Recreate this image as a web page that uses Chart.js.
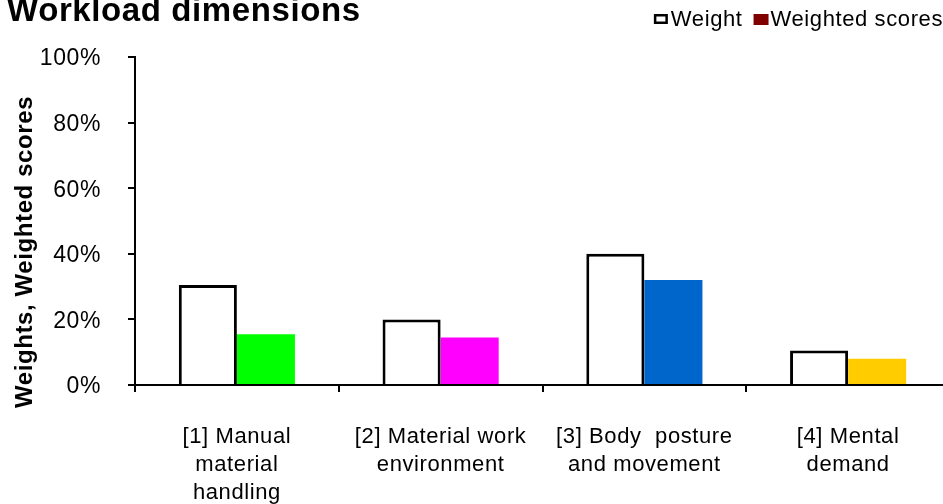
<!DOCTYPE html>
<html>
<head>
<meta charset="utf-8">
<script src="https://cdn.jsdelivr.net/npm/chart.js@4/dist/chart.umd.min.js"></script>
<style>
  html, body { margin: 0; padding: 0; background: #ffffff; overflow: hidden; }
  #wrap { width: 943px; height: 504px; overflow: hidden; position: relative; }
  canvas { display: block; }
</style>
</head>
<body>
<div id="wrap"><canvas id="chart" width="950" height="504"></canvas></div>
<script>
// Workload dimensions: weight of each dimension and its weighted score (%)
const categories = [
  ['[1] Manual', 'material', 'handling'],
  ['[2] Material work', 'environment'],
  ['[3] Body  posture', 'and movement'],
  ['[4] Mental', 'demand']
];
const weights = [30.5, 20, 40, 10.5];
const weightedScores = [15.5, 14.5, 32, 8];
const scoreColors = ['#00ff00', '#ff00ff', '#0066cc', '#ffcc00'];
const seriesNames = ['Weight', 'Weighted scores'];
const legendSwatches = ['#ffffff', '#800000'];
const yTicks = [0, 20, 40, 60, 80, 100];
const chartTitle = 'Workload dimensions';
const yAxisTitle = 'Weights, Weighted scores';

const FONT = '"Liberation Sans", Arial, sans-serif';
const SPACING = '0.6px';

// Slightly tracked-out text everywhere on the canvas
const tracking = {
  id: 'tracking',
  beforeUpdate(chart) { chart.ctx.letterSpacing = SPACING; },
  beforeDraw(chart) { chart.ctx.letterSpacing = SPACING; }
};

// Rotated y-axis caption and the compact legend in the top-right corner
const captions = {
  id: 'captions',
  afterDraw(chart) {
    const ctx = chart.ctx;

    ctx.save();
    ctx.letterSpacing = SPACING;
    ctx.fillStyle = '#000000';
    ctx.font = 'bold 24px ' + FONT;
    ctx.translate(25, 252);
    ctx.rotate(-Math.PI / 2);
    ctx.textAlign = 'center';
    ctx.textBaseline = 'middle';
    ctx.fillText(yAxisTitle, 0, 0);
    ctx.restore();

    ctx.save();
    ctx.letterSpacing = SPACING;
    ctx.font = '22px ' + FONT;
    ctx.textAlign = 'left';
    ctx.textBaseline = 'middle';
    const y = 20;
    let x = 943;
    for (let i = seriesNames.length - 1; i >= 0; i--) {
      const w = ctx.measureText(seriesNames[i]).width;
      x -= w;
      ctx.fillStyle = '#000000';
      ctx.fillText(seriesNames[i], x, y);
      x -= 3;
      const bw = 14, bh = 10;
      x -= bw;
      if (i === 0) {
        ctx.fillStyle = legendSwatches[i];
        ctx.fillRect(x, y - bh / 2 - 1, bw, bh);
        ctx.strokeStyle = '#000000';
        ctx.lineWidth = 2.5;
        ctx.strokeRect(x + 1.25, y - bh / 2 - 1 + 1.25, bw - 2.5, bh - 2.5);
      } else {
        ctx.fillStyle = legendSwatches[i];
        ctx.fillRect(x, y - bh / 2 - 1, bw + 1, bh + 1);
      }
      x -= 11;
    }
    ctx.restore();
  }
};

new Chart(document.getElementById('chart'), {
  type: 'bar',
  data: {
    labels: categories,
    datasets: [
      {
        label: seriesNames[0],
        data: weights,
        backgroundColor: '#ffffff',
        borderColor: '#000000',
        borderWidth: 3
      },
      {
        label: seriesNames[1],
        data: weightedScores,
        backgroundColor: scoreColors,
        borderWidth: 0
      }
    ]
  },
  options: {
    responsive: false,
    animation: false,
    events: [],
    layout: { padding: { left: 7, top: 0, right: 0, bottom: 0 } },
    datasets: { bar: { categoryPercentage: 0.57, barPercentage: 1 } },
    plugins: {
      legend: { display: false },
      tooltip: { enabled: false },
      title: {
        display: true,
        text: chartTitle,
        align: 'start',
        color: '#000000',
        font: { family: FONT, size: 33, weight: 'bold', lineHeight: 0.6 },
        padding: { top: 2, bottom: 35.2 }
      }
    },
    scales: {
      x: {
        offset: true,
        grid: {
          offset: true,
          drawOnChartArea: false,
          drawTicks: true,
          tickLength: 7,
          color: '#000000',
          lineWidth: 2
        },
        border: { display: true, color: '#000000', width: 2, z: 1 },
        ticks: {
          color: '#000000',
          font: { family: FONT, size: 22, lineHeight: 1.27 },
          padding: 31,
          maxRotation: 0,
          autoSkip: false
        },
        afterFit(scale) { scale.height = 119; }
      },
      y: {
        min: 0,
        max: 100,
        grid: {
          drawOnChartArea: false,
          drawTicks: true,
          tickLength: 7,
          color: '#000000',
          lineWidth: 2
        },
        border: { display: true, color: '#000000', width: 2, z: 1 },
        ticks: {
          color: '#000000',
          font: { family: FONT, size: 23 },
          padding: 27,
          labelOffset: 2,
          callback: (v) => v + '%'
        },
        afterBuildTicks(scale) { scale.ticks = yTicks.map((v) => ({ value: v })); },
        afterFit(scale) { scale.width = 128; }
      }
    }
  },
  plugins: [tracking, captions]
});
</script>
</body>
</html>
